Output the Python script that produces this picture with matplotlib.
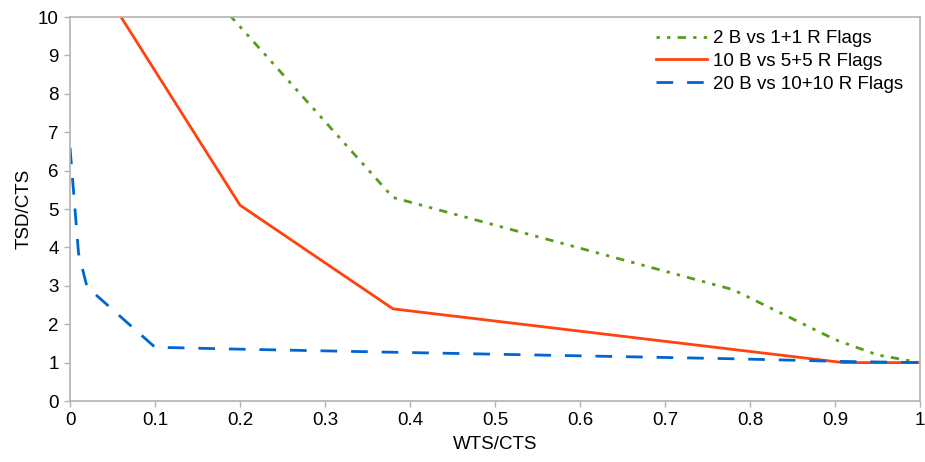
import matplotlib.pyplot as plt

plt.rcParams['font.family'] = ['Liberation Sans', 'DejaVu Sans']

# series data
x_green = [0.1, 0.2, 0.38, 0.78, 0.9, 0.95, 1.0]
y_green = [12.2, 9.75, 5.3, 2.9, 1.6, 1.2, 1.0]

x_red = [0.0, 0.2, 0.38, 0.91, 1.0]
y_red = [12.1, 5.1, 2.4, 1.0, 1.0]

x_blue = [0.0, 0.01, 0.02, 0.1, 0.2, 0.38, 0.78, 0.91, 1.0]
y_blue = [6.6, 3.85, 2.97, 1.4, 1.35, 1.27, 1.1, 1.03, 1.0]

labels = ['2 B vs 1+1 R Flags', '10 B vs 5+5 R Flags', '20 B vs 10+10 R Flags']
x_ticks = [0, 0.1, 0.2, 0.3, 0.4, 0.5, 0.6, 0.7, 0.8, 0.9, 1]
y_ticks = list(range(0, 11))

fs = 13.5

fig = plt.figure(figsize=(9.25, 4.62), dpi=100)
ax = fig.add_axes([0.0757, 0.132, 0.9189, 0.8312])

ax.plot(x_green, y_green, color='#579d1c', lw=2, dashes=(1.2, 2.6, 1.2, 2.6, 3, 2.6),
        label=labels[0])
ax.plot(x_red, y_red, color='#ff420e', lw=2, label=labels[1])
ax.plot(x_blue, y_blue, color='#0066cc', lw=2, dashes=(6, 5), label=labels[2])

ax.set_xlim(0, 1)
ax.set_ylim(0, 10)
ax.set_xticks(x_ticks)
ax.set_xticklabels([f'{v:g}' for v in x_ticks])
ax.set_yticks(y_ticks)

for s in ax.spines.values():
    s.set_color('#b3b3b3')
    s.set_linewidth(1.2)
ax.tick_params(colors='#b3b3b3', labelcolor='black', labelsize=fs, length=4, width=1, pad=4)

ax.set_xlabel('WTS/CTS', fontsize=fs, labelpad=5)
ax.set_ylabel('TSD/CTS', fontsize=fs, labelpad=4)

ax.legend(loc='upper right', bbox_to_anchor=(0.995, 1.0), frameon=False, fontsize=fs,
          handlelength=2.7, handletextpad=0.3, labelspacing=0.3, borderaxespad=0.3)

fig.savefig('out.png', dpi=100)
